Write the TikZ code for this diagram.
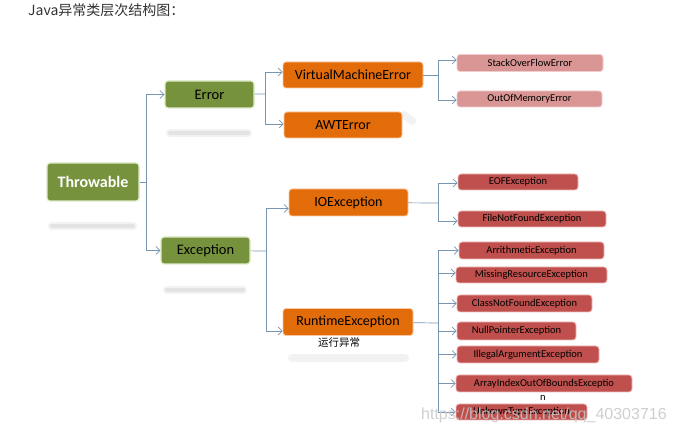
\documentclass[tikz,border=0pt]{standalone}
\usepackage{fontspec}
\setmainfont{Carlito}
\newfontfamily\cjk{Noto Sans CJK SC}
\newfontfamily\wmfont{Liberation Sans}
\usetikzlibrary{arrows.meta}
\newcommand{\fsz}[1]{\fontsize{#1}{#1}\selectfont}
\definecolor{linkc}{RGB}{120,150,178}
\definecolor{greenc}{RGB}{118,146,60}
\definecolor{greenedge}{RGB}{222,235,200}
\definecolor{orangec}{RGB}{227,108,10}
\definecolor{orangeedge}{RGB}{250,200,160}
\definecolor{pinkc}{RGB}{217,150,148}
\definecolor{pinkedge}{RGB}{240,205,205}
\definecolor{redc}{RGB}{192,80,77}
\definecolor{rededge}{RGB}{240,190,188}

\begin{document}
\begin{tikzpicture}[x=1pt, y=-1pt,
  line/.style={draw=linkc, line width=0.7pt},
  arrow/.style={line, -{Straight Barb[length=4pt,width=8pt]}},
  shadowbar/.style={draw=black, opacity=0.05, line width=8pt, line cap=round},
  shadowcore/.style={draw=black, opacity=0.06, line width=4pt, line cap=round},
  box/.style={rectangle, rounded corners=3pt, align=center, inner sep=0pt},
  greenbox/.style={box, fill=greenc, draw=greenedge, line width=1.2pt, minimum height=27pt, font=\fsz{14.5}},
  orangebox/.style={box, fill=orangec, draw=orangeedge, line width=0.8pt, minimum height=26pt, font=\fsz{14}},
  pinkbox/.style={box, fill=pinkc, draw=pinkedge, line width=0.8pt, minimum height=17pt, font=\fsz{10.5}},
  redbox/.style={box, fill=redc, draw=rededge, line width=0.8pt, minimum height=17pt, font=\fsz{10.5}}
]
\fill[white] (0,0) rectangle (675,435);
\useasboundingbox (0,0) rectangle (675,435);

% title
\node[anchor=west, inner sep=0pt, text=black!80, font=\cjk\fsz{14}] (title) at (28,10) {Java异常类层次结构图：};

% shadows
\draw[shadowbar] (52,226) -- (133,226);
\draw[shadowcore] (52,226) -- (133,226);
\draw[shadowbar] (170,133) -- (248,133);
\draw[shadowcore] (170,133) -- (248,133);
\draw[shadowbar] (167,290) -- (243,290);
\draw[shadowcore] (167,290) -- (243,290);
\draw[shadowbar] (292,358) -- (405,358);
\draw[shadowbar] (404,115) -- (412,121);

% level 0 and 1
\node[box, fill=greenc, draw=greenedge, line width=1.2pt, minimum width=92pt, minimum height=38pt, text=white, font=\bfseries\fsz{16}] (throwable) at (93,182) {Throwable};
\node[greenbox, minimum width=89pt] (error) at (209.5,94.5) {Error};
\node[greenbox, minimum width=89pt] (exception) at (205.5,250.5) {Exception};

% level 2
\node[orangebox, minimum width=140pt] (vmerror) at (353,75) {VirtualMachineError};
\node[orangebox, minimum width=118pt] (awterror) at (343,125) {AWTError};
\node[orangebox, minimum width=119pt, minimum height=27pt] (ioexc) at (348.5,202.5) {IOException};
\node[orangebox, minimum width=130pt, minimum height=27pt] (runtimeexc) at (348,322) {RuntimeException};
\node[font=\cjk\fsz{10.5}, inner sep=0pt] (runtimelbl) at (339,343) {运行异常};

% level 3
\node[pinkbox, minimum width=146pt] (stackof) at (530,63) {StackOverFlowError};
\node[pinkbox, minimum width=145pt, minimum height=16pt] (oom) at (529.5,99) {OutOfMemoryError};
\node[redbox, minimum width=120pt, minimum height=16pt] (eof) at (518,182) {EOFException};
\node[redbox, minimum width=148pt, minimum height=16pt] (fnf) at (532,219) {FileNotFoundException};
\node[redbox, minimum width=145pt] (arith) at (531.5,250.5) {ArrithmeticException};
\node[redbox, minimum width=151pt, minimum height=16pt] (missing) at (531.5,275) {MissingResourceException};
\node[redbox, minimum width=135pt] (classnf) at (524.5,303.5) {ClassNotFoundException};
\node[redbox, minimum width=119pt, minimum height=18pt] (nullptr) at (516.5,331) {NullPointerException};
\node[redbox, minimum width=142pt] (illegal) at (528,354.5) {IllegalArgumentException};
\node[redbox, minimum width=176pt] (arrayidx) at (544,383.5) {ArrayIndexOutOfBoundsExceptio};
\node[font=\fsz{10.5}, inner sep=0pt] (arraytail) at (543,398) {n};
\node[redbox, minimum width=131pt, minimum height=16pt] (unknown) at (521.5,412) {UnkownTypeException};

% connectors
\coordinate (tbus) at (146,182);
\draw[line] (throwable) -- (tbus);
\draw[arrow] (tbus) |- (error);
\draw[arrow] (tbus) |- (exception);

\coordinate (ebus) at (265,94);
\draw[line] (error) -- (ebus);
\draw[arrow] (ebus) |- ([yshift=3pt]vmerror.west);
\draw[arrow] (ebus) |- ([yshift=1pt]awterror.west);

\coordinate (vbus) at (438,75);
\draw[line] (vmerror) -- (vbus);
\draw[arrow] (vbus) |- ([yshift=3pt]stackof.west);
\draw[arrow] (vbus) |- ([yshift=-1pt]oom.west);

\coordinate (xbus) at (266,251);
\draw[line] (exception) -- (xbus);
\draw[arrow] (xbus) |- ([yshift=-6pt]ioexc.west);
\draw[arrow] (xbus) |- ([yshift=-9pt]runtimeexc.west);

\coordinate (iobus) at (438,203);
\draw[line] (ioexc) -- (iobus);
\draw[arrow] (iobus) |- ([yshift=-1pt]eof.west);
\draw[arrow] (iobus) |- ([yshift=-2pt]fnf.west);

\coordinate (rbus) at (438,323);
\draw[line] (runtimeexc) -- (rbus);
\draw[arrow] (rbus) |- (arith);
\draw[arrow] (rbus) |- ([yshift=2pt]missing.west);
\draw[arrow] (rbus) |- (classnf);
\draw[arrow] (rbus) |- (nullptr);
\draw[arrow] (rbus) |- (illegal);
\draw[arrow] (rbus) |- (arrayidx);
\draw[arrow] (rbus) |- (unknown);

% watermark
\node[anchor=west, inner sep=0pt, text=black!22, opacity=0.85, font=\wmfont\fsz{16}] (watermark) at (421,415) {https://blog.csdn.net/qq\_40303716};
\end{tikzpicture}
\end{document}
